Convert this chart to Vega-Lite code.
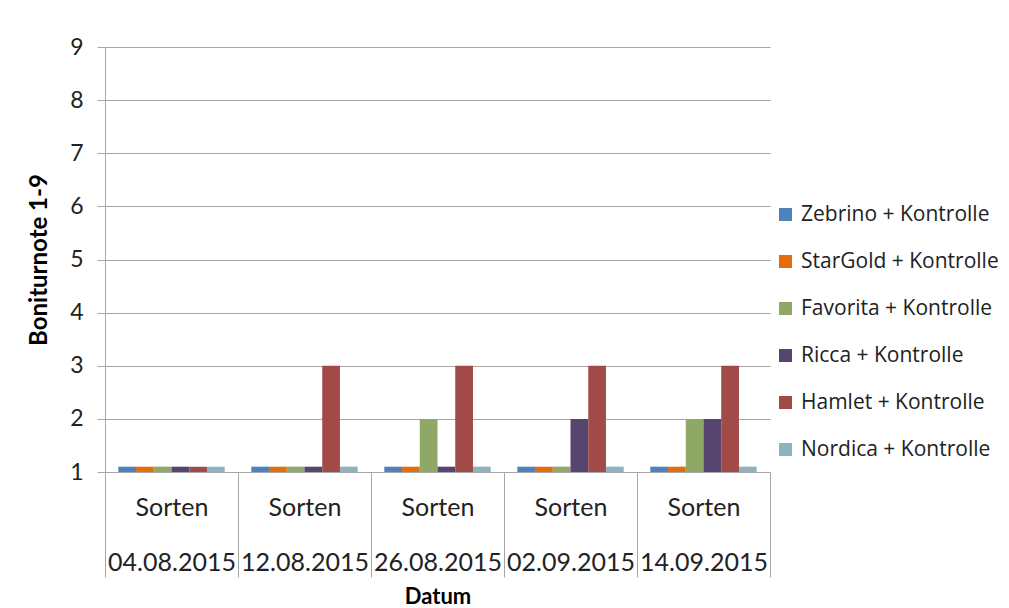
{
  "$schema": "https://vega.github.io/schema/vega-lite/v6.json",
  "autosize": {"type": "none"},
  "width": 665,
  "height": 425,
  "padding": {"left": 105, "top": 47, "right": 239, "bottom": 136},
  "background": "white",
  "title": {"text": "Behandlung.", "anchor": "start", "frame": "group", "dx": 58, "offset": 43, "font": "Lato", "fontSize": 25, "fontWeight": "normal", "color": "#222222", "baseline": "alphabetic"},
  "config": {"view": {"stroke": null}, "font": "Lato"},
  "data": {"values": [
    {"datum": "04.08.2015", "sorte": "Zebrino + Kontrolle", "wert": 1.1},
    {"datum": "04.08.2015", "sorte": "StarGold + Kontrolle", "wert": 1.1},
    {"datum": "04.08.2015", "sorte": "Favorita + Kontrolle", "wert": 1.1},
    {"datum": "04.08.2015", "sorte": "Ricca + Kontrolle", "wert": 1.1},
    {"datum": "04.08.2015", "sorte": "Hamlet + Kontrolle", "wert": 1.1},
    {"datum": "04.08.2015", "sorte": "Nordica + Kontrolle", "wert": 1.1},
    {"datum": "12.08.2015", "sorte": "Zebrino + Kontrolle", "wert": 1.1},
    {"datum": "12.08.2015", "sorte": "StarGold + Kontrolle", "wert": 1.1},
    {"datum": "12.08.2015", "sorte": "Favorita + Kontrolle", "wert": 1.1},
    {"datum": "12.08.2015", "sorte": "Ricca + Kontrolle", "wert": 1.1},
    {"datum": "12.08.2015", "sorte": "Hamlet + Kontrolle", "wert": 3},
    {"datum": "12.08.2015", "sorte": "Nordica + Kontrolle", "wert": 1.1},
    {"datum": "26.08.2015", "sorte": "Zebrino + Kontrolle", "wert": 1.1},
    {"datum": "26.08.2015", "sorte": "StarGold + Kontrolle", "wert": 1.1},
    {"datum": "26.08.2015", "sorte": "Favorita + Kontrolle", "wert": 2},
    {"datum": "26.08.2015", "sorte": "Ricca + Kontrolle", "wert": 1.1},
    {"datum": "26.08.2015", "sorte": "Hamlet + Kontrolle", "wert": 3},
    {"datum": "26.08.2015", "sorte": "Nordica + Kontrolle", "wert": 1.1},
    {"datum": "02.09.2015", "sorte": "Zebrino + Kontrolle", "wert": 1.1},
    {"datum": "02.09.2015", "sorte": "StarGold + Kontrolle", "wert": 1.1},
    {"datum": "02.09.2015", "sorte": "Favorita + Kontrolle", "wert": 1.1},
    {"datum": "02.09.2015", "sorte": "Ricca + Kontrolle", "wert": 2},
    {"datum": "02.09.2015", "sorte": "Hamlet + Kontrolle", "wert": 3},
    {"datum": "02.09.2015", "sorte": "Nordica + Kontrolle", "wert": 1.1},
    {"datum": "14.09.2015", "sorte": "Zebrino + Kontrolle", "wert": 1.1},
    {"datum": "14.09.2015", "sorte": "StarGold + Kontrolle", "wert": 1.1},
    {"datum": "14.09.2015", "sorte": "Favorita + Kontrolle", "wert": 2},
    {"datum": "14.09.2015", "sorte": "Ricca + Kontrolle", "wert": 2},
    {"datum": "14.09.2015", "sorte": "Hamlet + Kontrolle", "wert": 3},
    {"datum": "14.09.2015", "sorte": "Nordica + Kontrolle", "wert": 1.1}
  ]},
  "mark": {"type": "bar"},
  "encoding": {
    "x": {
      "field": "datum", "type": "nominal", "sort": null,
      "scale": {"paddingInner": 0, "paddingOuter": 0},
      "axis": {
        "title": "Datum", "titleFont": "Lato", "titleFontSize": 22, "titleFontWeight": "bold", "titleColor": "#000000",
        "titleY": 131, "titleBaseline": "alphabetic",
        "labelAngle": 0, "labelExpr": "datum.label ? ['Sorten', datum.label] : ''",
        "labelFont": "Lato", "labelFontSize": 25, "labelColor": "#222222",
        "labelLineHeight": 55, "labelBaseline": "top", "labelPadding": -82,
        "tickBand": "extent", "tickSize": 105, "tickColor": "#A6A6A6", "tickWidth": 1,
        "domainColor": "#A6A6A6", "labelOverlap": false
      }
    },
    "xOffset": {
      "field": "sorte", "type": "nominal",
      "sort": ["Zebrino + Kontrolle", "StarGold + Kontrolle", "Favorita + Kontrolle", "Ricca + Kontrolle", "Hamlet + Kontrolle", "Nordica + Kontrolle"],
      "scale": {"paddingInner": 0, "paddingOuter": 0.75}
    },
    "y": {
      "field": "wert", "type": "quantitative",
      "scale": {"domain": [1, 9], "zero": false, "nice": false},
      "axis": {
        "title": "Boniturnote 1-9", "titleFont": "Lato", "titleFontSize": 24, "titleFontWeight": "bold", "titleColor": "#000000",
        "titlePadding": 18,
        "values": [1, 2, 3, 4, 5, 6, 7, 8, 9],
        "labelFont": "Lato", "labelFontSize": 23, "labelColor": "#222222", "labelPadding": 14,
        "tickSize": 8, "tickColor": "#A6A6A6", "domainColor": "#A6A6A6",
        "grid": true, "gridColor": "#A6A6A6", "gridWidth": 1
      }
    },
    "y2": {"datum": 1},
    "color": {
      "field": "sorte", "type": "nominal",
      "sort": ["Zebrino + Kontrolle", "StarGold + Kontrolle", "Favorita + Kontrolle", "Ricca + Kontrolle", "Hamlet + Kontrolle", "Nordica + Kontrolle"],
      "scale": {
        "domain": ["Zebrino + Kontrolle", "StarGold + Kontrolle", "Favorita + Kontrolle", "Ricca + Kontrolle", "Hamlet + Kontrolle", "Nordica + Kontrolle"],
        "range": ["#4F81BD", "#E46C0A", "#8FA865", "#56456E", "#A24A48", "#8DB3BE"]
      },
      "legend": {
        "title": null, "orient": "none", "legendX": 670, "legendY": 157,
        "symbolType": "square", "symbolSize": 169, "symbolStrokeWidth": 0,
        "labelFont": "Open Sans", "labelFontSize": 21, "labelColor": "#222222", "labelLimit": 300,
        "rowPadding": 25, "labelOffset": 5
      }
    }
  }
}
